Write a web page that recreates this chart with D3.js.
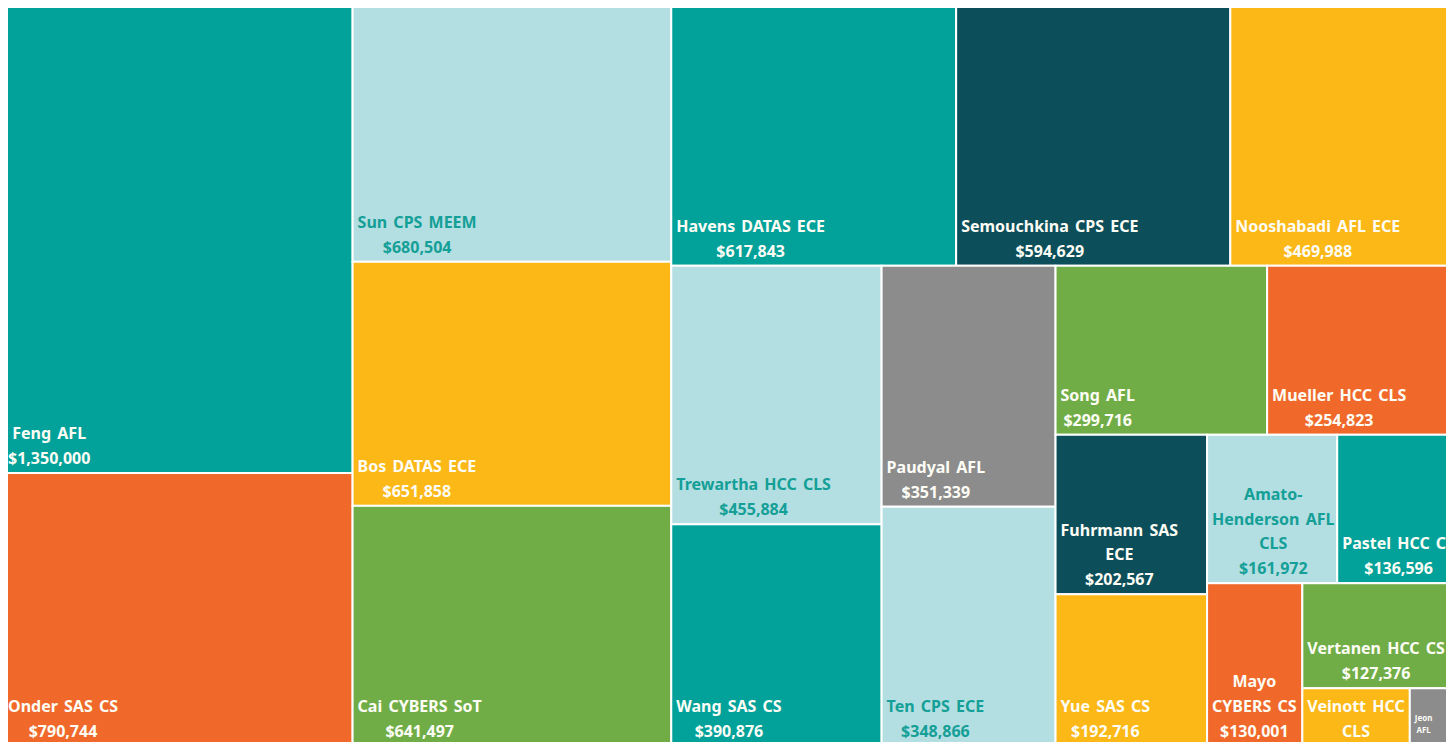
<!DOCTYPE html>
<html>
<head>
<meta charset="utf-8">
<script src="https://cdn.jsdelivr.net/npm/d3@7"></script>
<style>
  body { margin: 0; background: #fff; }
  svg { display: block; }
  text { font-family: "Noto Sans", sans-serif; font-weight: bold; word-spacing: 2px; }
</style>
</head>
<body>
<svg></svg>
<script>
const width = 1455;
const height = 742;

// PI + center / department labels
const names = ["Feng AFL", "Onder SAS CS", "Sun CPS MEEM", "Bos DATAS ECE", "Cai CYBERS SoT",
  "Havens DATAS ECE", "Semouchkina CPS ECE", "Nooshabadi AFL ECE", "Trewartha HCC CLS", "Wang SAS CS",
  "Paudyal AFL", "Ten CPS ECE", "Song AFL", "Mueller HCC CLS", "Fuhrmann SAS ECE", "Yue SAS CS",
  "Amato-Henderson AFL CLS", "Pastel HCC CS", "Mayo CYBERS CS", "Vertanen HCC CS", "Veinott HCC CLS", "Jeon AFL"];
// funding in dollars (last two are estimated, their labels are cut off)
const amounts = [1350000, 790744, 680504, 651858, 641497,
  617843, 594629, 469988, 455884, 390876,
  351339, 348866, 299716, 254823, 202567, 192716,
  161972, 136596, 130001, 127376, 52000, 18000];

// fill per cell, same order as names
const teal = "#02a29a", orange = "#f0692a", light = "#b3dee2", yellow = "#fbb816",
  green = "#71ad47", dark = "#0c4f5b", gray = "#8c8c8c";
const cellColors = [teal, orange, light, yellow, green,
  teal, dark, yellow, light, teal,
  gray, light, green, orange, dark, yellow,
  light, teal, orange, green, yellow, gray];

const svg = d3.select("svg")
  .attr("width", width)
  .attr("height", height);

const color = d3.scaleOrdinal().domain(names).range(cellColors);
const fmt = d3.format("$,");

// layout is computed on a squarer canvas, then stretched into the page
const LW = 1830, LH = 1000;
const root = d3.hierarchy({ children: names.map((n, i) => ({ name: n, value: amounts[i] })) })
  .sum(d => d.value)
  .sort((a, b) => b.value - a.value);

d3.treemap()
  .tile(d3.treemapSquarify.ratio(1))
  .size([LW, LH])(root);

const x = d3.scaleLinear().domain([0, LW]).range([7, 1447]);
const y = d3.scaleLinear().domain([0, LH]).range([7, 746]);

const measure = svg.append("text").attr("visibility", "hidden");
function textW(s, fs) {
  measure.attr("font-size", fs).text(s);
  return measure.node().getComputedTextLength();
}

function wrap(tokens, fs, avail) {
  const lines = [];
  let cur = "";
  tokens.forEach(t => {
    const trial = cur === "" ? t : (cur.endsWith("-") ? cur + t : cur + " " + t);
    if (cur !== "" && textW(trial, fs) > avail) { lines.push(cur); cur = t; }
    else cur = trial;
  });
  if (cur) lines.push(cur);
  return lines;
}

const cell = svg.selectAll("g.cell")
  .data(root.leaves())
  .enter().append("g")
  .attr("class", "cell")
  .attr("transform", d => `translate(${x(d.x0)},${y(d.y0)})`);

cell.append("clipPath")
  .attr("id", (d, i) => "clip" + i)
  .append("rect")
  .attr("width", d => x(d.x1) - x(d.x0))
  .attr("height", d => y(d.y1) - y(d.y0));

cell.append("rect")
  .attr("width", d => x(d.x1) - x(d.x0))
  .attr("height", d => y(d.y1) - y(d.y0))
  .attr("fill", d => color(d.data.name))
  .attr("stroke", "#fff")
  .attr("stroke-width", 2);

cell.each(function (d, i) {
  const w = x(d.x1) - x(d.x0), h = y(d.y1) - y(d.y0);
  const padL = d.x0 === 0 ? 1 : 5;
  const avail = w - padL - 1;
  const tokens = d.data.name.split(" ").flatMap(t => t.split(/(?<=-)/));
  let fs = 16;
  const widest = d3.max(tokens, t => textW(t, fs));
  if (widest > avail) fs = 8;
  // cells on the right edge run past the frame, their labels may too
  const wrapAvail = avail + (fs === 16 && d.x1 === LW ? 14 : 0);
  const lines = wrap(tokens, fs, wrapAvail);
  const lh = fs * 1.55;
  const val = fmt(d.data.value);
  if (fs === 16 && (lines.length + 1) * lh + 6 <= h && textW(val, fs) <= avail) lines.push(val);
  const blockW = d3.max(lines, l => textW(l, fs));
  const cx = padL + blockW / 2;
  const lastBase = fs < 16 ? h - 13 : h - 9;
  const fill = color(d.data.name) === light ? "#149f97" : "#fdfdf6";

  d3.select(this).append("g")
    .attr("clip-path", `url(#clip${i})`)
    .selectAll("text")
    .data(lines)
    .enter().append("text")
    .attr("x", cx)
    .attr("y", (l, j) => lastBase - (lines.length - 1 - j) * lh)
    .attr("text-anchor", "middle")
    .attr("font-size", fs)
    .attr("fill", fill)
    .text(l => l);
});

measure.remove();
</script>
</body>
</html>
